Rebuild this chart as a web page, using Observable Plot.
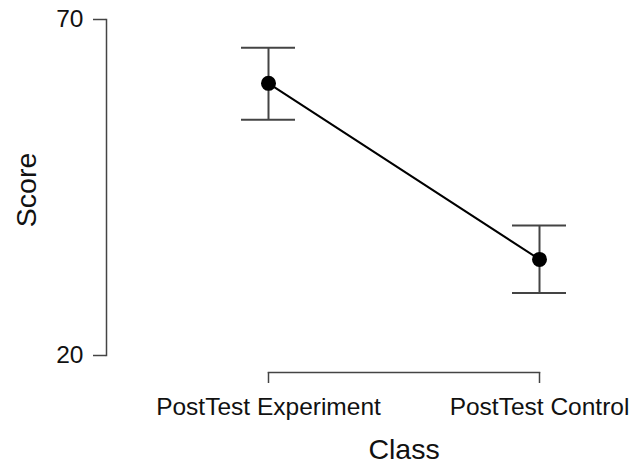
<!DOCTYPE html>
<html>
<head>
<meta charset="utf-8">
<script src="https://cdn.jsdelivr.net/npm/d3@7"></script>
<script src="https://cdn.jsdelivr.net/npm/@observablehq/plot@0.6"></script>
<style>
  html, body { margin: 0; padding: 0; background: #fff; }
  #chart svg { display: block; font-family: "Liberation Sans", Arial, sans-serif; }
</style>
</head>
<body>
<div id="chart"></div>
<script>
const classes = ["PostTest Experiment", "PostTest Control"];
const means = [60.5, 34.3];
const lower = [55.1, 29.3];
const upper = [65.8, 39.35];
const yTicks = [20, 70];

const data = classes.map((c, i) => ({cls: c, mean: means[i], lo: lower[i], hi: upper[i]}));

const axisColor = "#444";
const textColor = "#111";

const chart = Plot.plot({
  width: 632,
  height: 466,
  marginTop: 19,
  marginLeft: 268,
  marginRight: 93,
  marginBottom: 94,
  style: {fontFamily: "'Liberation Sans', Arial, sans-serif", color: textColor, background: "#fff"},
  x: {type: "point", domain: classes, padding: 0},
  y: {domain: [20, 70], range: [355, 19]},
  marks: [
    // y axis
    Plot.axisY({ticks: yTicks, tickSize: 13, tickPadding: 10, fontSize: 24.5, label: null, dx: -162, stroke: axisColor, strokeWidth: 1.5, fill: textColor}),
    Plot.frame({anchor: "left", insetBottom: 17, dx: -162, stroke: axisColor, strokeWidth: 1.5}),
    Plot.text(["Score"], {frameAnchor: "left", textAnchor: "middle", lineAnchor: "middle", rotate: -90, dx: -241.5, dy: -6, fontSize: 28.5, fill: textColor}),
    // x axis
    Plot.axisX({tickSize: 11, tickPadding: 14, fontSize: 24.5, label: null, stroke: axisColor, strokeWidth: 1.5, fill: textColor}),
    Plot.frame({anchor: "bottom", stroke: axisColor, strokeWidth: 1.5}),
    Plot.text(["Class"], {frameAnchor: "bottom", textAnchor: "middle", lineAnchor: "middle", dy: 77, fontSize: 28.5, fill: textColor}),
    // error bars
    Plot.ruleX(data, {x: "cls", y1: "lo", y2: "hi", stroke: axisColor, strokeWidth: 2}),
    Plot.ruleY(data, {x1: "cls", x2: "cls", y: "hi", insetLeft: -27, insetRight: -27, stroke: axisColor, strokeWidth: 2}),
    Plot.ruleY(data, {x1: "cls", x2: "cls", y: "lo", insetLeft: -27, insetRight: -27, stroke: axisColor, strokeWidth: 2}),
    // line + points
    Plot.line(data, {x: "cls", y: "mean", stroke: "#000", strokeWidth: 2}),
    Plot.dot(data, {x: "cls", y: "mean", r: 7.5, fill: "#000", stroke: null})
  ]
});
document.getElementById("chart").appendChild(chart);
</script>
</body>
</html>
